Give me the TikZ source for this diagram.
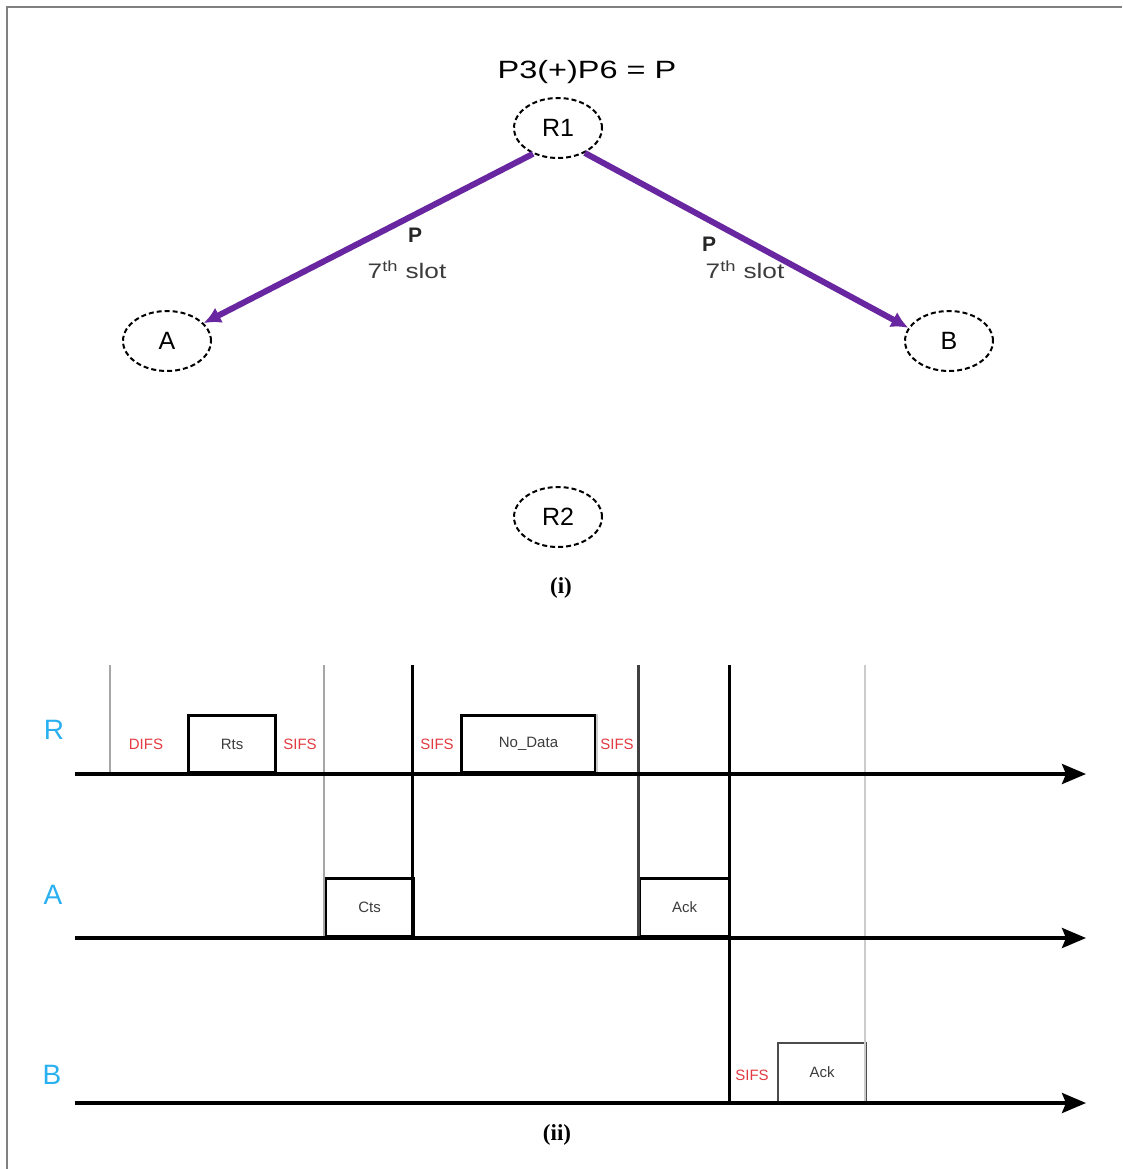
\documentclass[tikz,border=0pt]{standalone}
\usepackage{fontspec}
\newfontfamily\arial{Liberation Sans}
\newfontfamily\capfont{Liberation Serif}
\usetikzlibrary{shapes.geometric,arrows.meta}
\definecolor{purp}{RGB}{104,38,160}
\definecolor{ifsred}{RGB}{226,58,64}
\definecolor{lblue}{RGB}{41,176,240}
\definecolor{txtgray}{RGB}{60,60,60}
\begin{document}
\begin{tikzpicture}[x=1pt,y=-1pt,
  station/.style={ellipse, draw, dash pattern=on 5pt off 3pt, line width=2pt,
    minimum width=88pt, minimum height=60pt, inner sep=0pt,
    font=\arial\fontsize{25}{25}\selectfont},
  relay/.style={draw=purp, line width=6pt, -{Latex[length=17pt,width=17pt]}},
  toplabel/.style={font=\arial\fontsize{21}{21}\selectfont, text=txtgray, inner sep=0pt},
  timeaxis/.style={line width=3.6pt, -{Stealth[length=24pt,width=20pt,inset=4pt]}},
  frame/.style={draw, line width=3pt, inner sep=0pt, anchor=south west,
    font=\arial\fontsize{15}{15}\selectfont, text=txtgray},
  ifs/.style={font=\arial\fontsize{15}{15}\selectfont, text=ifsred, inner sep=0pt},
  lane/.style={font=\arial\fontsize{28}{28}\selectfont, text=lblue, inner sep=0pt},
  caption/.style={font=\capfont\bfseries\fontsize{23}{23}\selectfont, inner sep=0pt},
  vthin/.style={draw=gray!70, line width=1.6pt},
  vlight/.style={draw=gray!40, line width=1.6pt},
  vthick/.style={draw=black, line width=3pt},
  vdark/.style={draw=black!75, line width=3pt}]
\useasboundingbox (0,0) rectangle (1122,1169);
% frame lines
\coordinate (fTL) at (7,7);
\coordinate (fTR) at (1122,7);
\coordinate (fBL) at (7,1169);
\draw[gray, line width=1.2pt] (fTR) -- (fTL) -- (fBL);

% ---------- part (i) ----------
\node[font=\arial\fontsize{25}{25}\selectfont, inner sep=0pt] (title) at (587,72)
  {\scalebox{1.3}[1]{P3(+)P6 = P}};
\node[station] (R1) at (558,128) {R1};
\node[station] (A) at (167,341) {A};
\node[station] (B) at (949,341) {B};
\node[station] (R2) at (558,517) {R2};

\draw[relay] (R1.226) -- (A.26);
\draw[relay] (R1.-43) -- (B.162);

\node[toplabel, font=\arial\bfseries\fontsize{21}{21}\selectfont, text=black!85] (pL) at (415,235) {P};
\node[toplabel] (sL) at (407,270) {\scalebox{1.25}[1]{7\textsuperscript{th} slot}};
\node[toplabel, font=\arial\bfseries\fontsize{21}{21}\selectfont, text=black!85] (pR) at (709,244) {P};
\node[toplabel] (sR) at (745,270) {\scalebox{1.25}[1]{7\textsuperscript{th} slot}};

\node[caption] (capi) at (561,588) {(i)};

% ---------- part (ii) ----------
\coordinate (Rs) at (75,774);  \coordinate (Re) at (1086,774);
\coordinate (As) at (75,938);  \coordinate (Ae) at (1086,938);
\coordinate (Bs) at (75,1103); \coordinate (Be) at (1086,1103);

\node[lane] (lR) at (54,730) {R};
\node[lane] (lA) at (53,895) {A};
\node[lane] (lB) at (52,1075) {B};

% boxes
\node[frame, minimum width=87pt, minimum height=57pt] (rts) at (187,774) {Rts};
\node[frame, minimum width=134pt, minimum height=57pt] (data) at (460,774) {No\_Data};
\node[frame, minimum width=88pt, minimum height=58pt] (cts) at (324,938) {Cts};
\node[frame, minimum width=90pt, minimum height=58pt] (ackA) at (638,938) {Ack};
\node[frame, draw=black!70, line width=2.4pt, minimum width=88pt, minimum height=59pt] (ackB) at (777,1103) {Ack};

% overdraw lighter edges
\draw[vlight] (data.north east) -- (data.south east);

% vertical time markers
\coordinate (v1t) at (110,665);  \coordinate (v1b) at (110,774);
\coordinate (v2t) at (324,665);  \coordinate (v2b) at (324,938);
\coordinate (v3t) at (412,665);  \coordinate (v3b) at (412,938);
\coordinate (v4t) at (638,665);  \coordinate (v4b) at (638,938);
\coordinate (v5t) at (729,665);  \coordinate (v5b) at (729,1103);
\coordinate (v6t) at (865,665);  \coordinate (v6b) at (865,1103);
\draw[vthin] (v1t) -- (v1b);
\draw[vthin] (v2t) -- (v2b);
\draw[vthick] (v3t) -- (v3b);
\draw[vdark] (v4t) -- (v4b);
\draw[vthick] (v5t) -- (v5b);
\draw[vlight] (v6t) -- (v6b);

% time axes
\draw[timeaxis] (Rs) -- (Re);
\draw[timeaxis] (As) -- (Ae);
\draw[timeaxis] (Bs) -- (Be);

% inter-frame spaces
\node[ifs] (difs) at (146,744) {DIFS};
\node[ifs] (sifs1) at (300,744) {SIFS};
\node[ifs] (sifs2) at (437,744) {SIFS};
\node[ifs] (sifs3) at (617,744) {SIFS};
\node[ifs] (sifs4) at (752,1075) {SIFS};

\node[caption] (capii) at (557,1135) {(ii)};
\end{tikzpicture}
\end{document}
